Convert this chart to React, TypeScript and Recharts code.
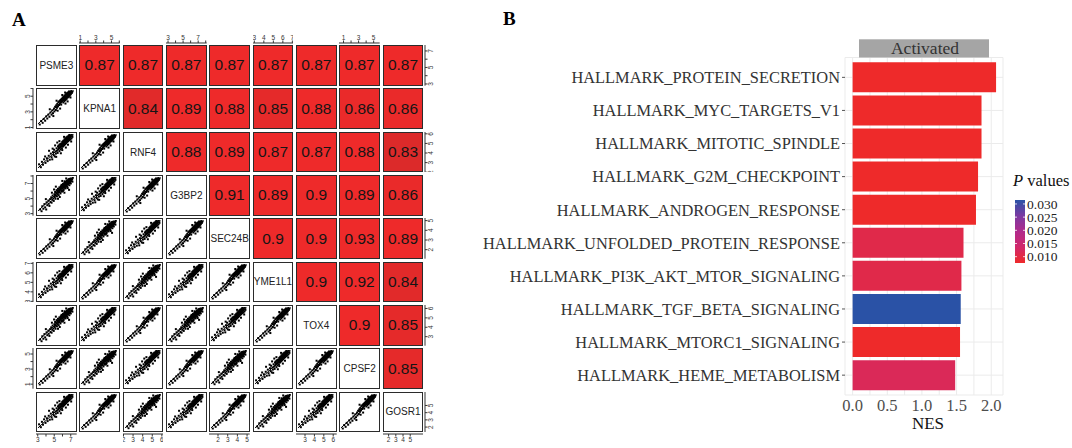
import React from 'react';
import {
  ScatterChart, Scatter, XAxis, YAxis, ReferenceLine, LineChart,
  BarChart, Bar, Cell, CartesianGrid,
} from 'recharts';

// ---------------- Panel A data ----------------
const genes = ['PSME3', 'KPNA1', 'RNF4', 'G3BP2', 'SEC24B', 'YME1L1', 'TOX4', 'CPSF2', 'GOSR1'];

// correlation coefficients, upper triangle, row by row (columns to the right of the diagonal)
const corrPSME3 = [0.87, 0.87, 0.87, 0.87, 0.87, 0.87, 0.87, 0.87];
const corrKPNA1 = [0.84, 0.89, 0.88, 0.85, 0.88, 0.86, 0.86];
const corrRNF4 = [0.88, 0.89, 0.87, 0.87, 0.88, 0.83];
const corrG3BP2 = [0.91, 0.89, 0.9, 0.89, 0.86];
const corrSEC24B = [0.9, 0.9, 0.93, 0.89];
const corrYME1L1 = [0.9, 0.92, 0.84];
const corrTOX4 = [0.9, 0.85];
const corrCPSF2 = [0.85];
const corrRows = [corrPSME3, corrKPNA1, corrRNF4, corrG3BP2, corrSEC24B, corrYME1L1, corrTOX4, corrCPSF2, []];

// per-gene expression axis ranges, tick positions and tick labels
const axisLo = [2.79, 0.85, 1.95, 2.73, 1.07, 2.86, 2.04, 0.4, 1.22];
const axisHi = [7.72, 6.05, 6.19, 8.13, 5.27, 7.14, 6.37, 5.8, 6.87];
const axisTicks = [[3, 4, 5, 6, 7], [1, 2, 3, 4, 5, 6], [2, 3, 4, 5, 6], [3, 4, 5, 6, 7, 8], [2, 3, 4, 5], [3, 4, 5, 6, 7], [3, 4, 5, 6], [1, 2, 3, 4, 5], [2, 3, 4, 5]];
const axisLabels = [[3, 5, 7], [1, 3, 5], [2, 3, 4, 5, 6], [3, 5, 7], [2, 3, 4, 5], [3, 4, 5, 6, 7], [3, 4, 5, 6], [1, 3, 5], [2, 3, 4, 5]];

// scatter clouds (normalised 0-10 expression units)
const cloudA: [number, number][] = [
  [0.6, 0.9], [1.0, 0.4], [1.2, 1.8], [1.5, 1.1], [1.8, 2.4], [2.0, 1.5], [2.3, 0.9], [2.4, 2.9], [2.6, 2.1], [2.9, 3.4],
  [3.0, 2.5], [3.2, 1.9], [3.4, 3.8], [3.5, 3.0], [3.7, 4.3], [3.8, 2.8], [4.0, 3.6], [4.1, 4.8], [4.3, 4.0], [4.4, 3.3],
  [4.6, 5.2], [4.7, 4.4], [4.8, 5.8], [4.9, 3.9], [5.0, 4.9], [5.1, 5.5], [5.2, 6.3], [5.3, 4.6], [5.4, 5.9], [5.5, 5.2],
  [5.6, 6.7], [5.7, 5.6], [5.8, 4.9], [5.9, 6.2], [6.0, 7.1], [6.1, 5.8], [6.2, 6.6], [6.3, 5.4], [6.4, 7.4], [6.5, 6.3],
  [6.6, 6.9], [6.7, 5.9], [6.8, 7.7], [6.9, 6.7], [7.0, 7.2], [7.1, 8.1], [7.2, 6.4], [7.3, 7.5], [7.4, 8.4], [7.5, 7.0],
  [7.6, 7.9], [7.7, 6.8], [7.8, 8.6], [7.9, 7.6], [8.0, 8.2], [8.1, 9.0], [8.2, 7.3], [8.3, 8.5], [8.4, 7.9], [8.5, 9.2],
  [8.6, 8.3], [8.7, 8.8], [8.8, 7.7], [8.9, 9.5], [9.0, 8.6], [9.1, 9.1], [9.2, 8.2], [9.3, 9.6], [9.4, 8.9], [9.6, 9.4],
  [9.7, 8.7], [9.8, 9.8], [6.1, 4.4], [7.4, 5.6], [5.0, 7.3], [3.9, 5.6], [8.7, 6.4], [2.2, 3.8], [6.8, 8.9], [7.9, 9.6],
  [5.6, 3.9], [4.5, 6.5], [8.3, 6.9], [7.0, 6.1], [6.6, 7.8], [7.2, 7.0], [7.7, 8.2], [8.0, 7.7], [8.5, 8.6], [6.3, 6.9],
  [5.8, 6.0], [6.9, 7.3], [7.5, 8.8], [8.9, 8.3], [7.3, 7.9], [8.2, 8.9], [7.8, 7.3], [6.7, 7.1], [8.6, 9.4], [9.0, 9.3],
  [7.1, 7.6], [7.6, 7.4], [8.1, 8.6], [8.4, 8.4], [6.5, 7.3], [7.0, 8.0], [8.8, 9.0], [9.2, 9.0], [6.0, 6.4], [5.5, 6.2],
];
const cloudB: [number, number][] = [
  [0.3, 1.5], [0.8, 0.7], [1.1, 2.2], [1.4, 1.4], [1.7, 2.9], [2.1, 1.9], [2.5, 3.2], [2.7, 2.4], [3.0, 3.9], [3.3, 2.8],
  [3.6, 4.5], [3.8, 3.5], [4.0, 2.9], [4.2, 4.9], [4.4, 4.1], [4.5, 5.6], [4.7, 3.7], [4.9, 5.1], [5.0, 4.5], [5.2, 6.0],
  [5.3, 5.3], [5.5, 4.7], [5.6, 6.5], [5.7, 5.7], [5.9, 6.1], [6.0, 5.2], [6.1, 7.0], [6.2, 6.4], [6.3, 5.7], [6.5, 7.3],
  [6.6, 6.6], [6.7, 6.0], [6.8, 7.8], [6.9, 7.0], [7.0, 6.5], [7.1, 8.1], [7.2, 7.4], [7.3, 6.8], [7.4, 8.5], [7.5, 7.7],
  [7.6, 7.1], [7.7, 8.8], [7.8, 8.0], [7.9, 7.4], [8.0, 9.1], [8.1, 8.4], [8.2, 7.8], [8.3, 9.3], [8.4, 8.6], [8.5, 8.0],
  [8.6, 9.5], [8.7, 8.9], [8.8, 8.3], [8.9, 9.7], [9.0, 9.0], [9.1, 8.5], [9.2, 9.4], [9.4, 8.8], [9.5, 9.8], [9.7, 9.2],
  [3.1, 5.3], [5.4, 7.6], [6.4, 4.6], [7.8, 6.2], [2.0, 3.7], [4.8, 6.8], [8.4, 7.0], [6.0, 8.0], [9.3, 7.9], [5.1, 3.6],
  [7.3, 9.2], [8.8, 9.9], [6.8, 5.5], [4.1, 5.9], [7.9, 8.7], [8.5, 9.0], [7.0, 7.6], [7.6, 8.3], [8.2, 8.8], [6.5, 6.9],
  [9.0, 9.5], [5.8, 6.8], [7.2, 8.0], [8.0, 8.5], [6.9, 7.5], [7.7, 7.6], [8.6, 8.7], [6.2, 7.1], [7.4, 7.2], [8.1, 7.9],
  [7.1, 7.0], [7.8, 8.5], [8.3, 8.2], [8.9, 9.2], [6.6, 7.2], [7.5, 8.1], [8.7, 9.3], [6.3, 6.2],
];
const cloudC: [number, number][] = [
  [0.5, 0.3], [0.9, 1.3], [1.3, 0.8], [1.6, 1.9], [2.0, 1.4], [2.3, 2.6], [2.6, 2.0], [2.9, 3.1], [3.2, 2.5], [3.5, 3.7],
  [3.8, 3.1], [4.0, 4.3], [4.2, 3.5], [4.5, 4.8], [4.6, 4.0], [4.8, 5.3], [5.0, 4.4], [5.1, 5.7], [5.3, 5.0], [5.4, 6.1],
  [5.6, 5.4], [5.7, 6.6], [5.9, 5.8], [6.0, 6.9], [6.1, 6.2], [6.3, 7.2], [6.4, 6.5], [6.5, 5.9], [6.6, 7.5], [6.7, 6.8],
  [6.9, 7.9], [7.0, 7.1], [7.1, 6.5], [7.2, 8.2], [7.3, 7.5], [7.4, 6.9], [7.5, 8.5], [7.6, 7.8], [7.7, 7.2], [7.8, 8.8],
  [7.9, 8.1], [8.0, 7.5], [8.1, 9.1], [8.2, 8.4], [8.3, 7.9], [8.4, 9.3], [8.5, 8.7], [8.6, 8.1], [8.7, 9.6], [8.8, 9.0],
  [8.9, 8.5], [9.0, 9.4], [9.2, 8.8], [9.3, 9.7], [9.5, 9.2], [9.7, 9.6], [5.2, 7.0], [6.2, 4.8], [7.6, 9.3], [8.3, 6.8],
  [3.3, 4.6], [4.3, 2.7], [6.8, 8.6], [7.7, 6.2], [9.1, 7.9], [5.5, 4.2], [8.0, 8.9], [7.2, 7.8], [6.6, 7.1], [8.6, 9.0],
  [7.9, 7.8], [8.4, 8.2], [7.0, 7.6], [7.5, 7.3], [8.2, 8.8], [6.3, 6.6], [8.8, 8.4], [7.4, 8.0], [8.9, 9.2], [6.9, 7.2],
  [7.1, 7.4], [7.8, 8.3], [8.1, 8.0], [8.5, 9.0], [6.5, 7.0], [7.3, 8.0], [8.7, 8.8], [9.1, 9.2],
];
const clouds = [cloudA, cloudB, cloudC];
const fitLine = [{ x: 0, y: 0.5 }, { x: 10, y: 9.8 }];

// ---------------- Panel B data ----------------
const pathways = [
  'HALLMARK_PROTEIN_SECRETION',
  'HALLMARK_MYC_TARGETS_V1',
  'HALLMARK_MITOTIC_SPINDLE',
  'HALLMARK_G2M_CHECKPOINT',
  'HALLMARK_ANDROGEN_RESPONSE',
  'HALLMARK_UNFOLDED_PROTEIN_RESPONSE',
  'HALLMARK_PI3K_AKT_MTOR_SIGNALING',
  'HALLMARK_TGF_BETA_SIGNALING',
  'HALLMARK_MTORC1_SIGNALING',
  'HALLMARK_HEME_METABOLISM',
];
const nesValues = [2.07, 1.86, 1.86, 1.81, 1.78, 1.6, 1.57, 1.56, 1.55, 1.48];
const pValues = [0.0076, 0.0076, 0.0076, 0.0076, 0.0076, 0.0106, 0.0106, 0.0315, 0.0076, 0.0119];
const nesTicks = [0, 0.25, 0.5, 0.75, 1, 1.25, 1.5, 1.75, 2];
const nesLabels = [0, 0.5, 1, 1.5, 2];
const legendTicks = [0.01, 0.015, 0.02, 0.025, 0.03];

// ---------------- helpers ----------------
const SANS = '"Liberation Sans", Arial, Helvetica, sans-serif';
const SERIF = '"Liberation Serif", "Times New Roman", Times, serif';

const P_MIN = 0.0076;
const P_MAX = 0.0315;
const gradStops: [number, string][] = [
  [0, '#EE2A2A'], [0.25, '#D2286A'], [0.5, '#B02A8C'], [0.75, '#7A3AA2'], [1, '#2A52A6'],
];
function hexToRgb(h: string) {
  return [parseInt(h.slice(1, 3), 16), parseInt(h.slice(3, 5), 16), parseInt(h.slice(5, 7), 16)];
}
function pColor(p: number) {
  const t = Math.max(0, Math.min(1, (p - P_MIN) / (P_MAX - P_MIN)));
  for (let i = 0; i < gradStops.length - 1; i++) {
    const [t0, c0] = gradStops[i];
    const [t1, c1] = gradStops[i + 1];
    if (t <= t1) {
      const f = (t - t0) / (t1 - t0);
      const a = hexToRgb(c0), b = hexToRgb(c1);
      return `rgb(${a.map((v, k) => Math.round(v + (b[k] - v) * f)).join(',')})`;
    }
  }
  return gradStops[gradStops.length - 1][1];
}
function corrColor(r: number) {
  const t = Math.max(0, Math.min(1, (0.87 - r) / 0.04));
  const a = hexToRgb('#EE2A2A'), b = hexToRgb('#DC2A2A');
  return `rgb(${a.map((v, k) => Math.round(v + (b[k] - v) * t)).join(',')})`;
}

const X0 = 36;
const Y0 = 45;
const PITCH = 43.33;
const CELL = 40.7;
const BORDER = 1.5;

const Dot = (p: any) => (
  <rect x={p.cx - 1} y={p.cy - 1} width={2} height={2} fill="#000" />
);

function ScatterCell({ cloud }: { cloud: [number, number][] }) {
  const data = cloud.map(([x, y]) => ({ x, y }));
  const s = CELL - 2 * BORDER;
  return (
    <ScatterChart width={s} height={s} margin={{ top: 1, right: 1, bottom: 1, left: 1 }}>
      <XAxis type="number" dataKey="x" domain={[0, 10]} hide allowDataOverflow />
      <YAxis type="number" dataKey="y" domain={[0, 10]} hide allowDataOverflow />
      <ReferenceLine segment={fitLine} stroke="#000" strokeWidth={1} ifOverflow="visible" />
      <Scatter data={data} isAnimationActive={false} shape={Dot} />
    </ScatterChart>
  );
}

function HAxis({ side, gi }: { side: 'top' | 'bottom'; gi: number }) {
  const lo = axisLo[gi], hi = axisHi[gi];
  const left = X0 + gi * PITCH;
  const top = side === 'top' ? 43.3 - 12 : 433.5 - 2;
  return (
    <div style={{ position: 'absolute', left, top }}>
      <LineChart width={CELL} height={14} data={[{ v: lo }, { v: hi }]} margin={{ top: 0, right: 0, bottom: 0, left: 0 }}>
        <XAxis
          type="number" dataKey="v" domain={[lo, hi]} allowDataOverflow
          ticks={axisTicks[gi]} interval={0} orientation={side} height={12}
          tickSize={2.5} tickMargin={0.5} stroke="#333"
          tick={{ fontSize: 6.5, fill: '#333', fontFamily: SANS }}
          tickFormatter={(v: number) => (axisLabels[gi].includes(v) ? String(v) : '')}
        />
        <YAxis hide />
      </LineChart>
    </div>
  );
}

function VAxis({ side, gi }: { side: 'left' | 'right'; gi: number }) {
  const lo = axisLo[gi], hi = axisHi[gi];
  const top = Y0 + gi * PITCH;
  const left = side === 'left' ? 33 - 12 : 424.5 - 2;
  const renderTick = (props: any) => {
    const { x, y, payload } = props;
    const v = payload.value;
    if (!axisLabels[gi].includes(v)) return <g />;
    const tx = side === 'left' ? x : x + 4.8;
    return (
      <text x={tx} y={y} transform={`rotate(-90 ${tx} ${y})`} textAnchor="middle"
        fontSize={6.5} fill="#333" fontFamily={SANS}>{v}</text>
    );
  };
  return (
    <div style={{ position: 'absolute', left, top }}>
      <LineChart width={14} height={CELL} data={[{ v: lo }, { v: hi }]} margin={{ top: 0, right: 0, bottom: 0, left: 0 }}>
        <XAxis hide />
        <YAxis
          type="number" dataKey="v" domain={[lo, hi]} allowDataOverflow
          ticks={axisTicks[gi]} interval={0} orientation={side} width={12}
          tickSize={2.5} tickMargin={0.5} stroke="#333" tick={renderTick}
        />
      </LineChart>
    </div>
  );
}

function PanelA() {
  const cells: React.ReactNode[] = [];
  for (let i = 0; i < genes.length; i++) {
    for (let j = 0; j < genes.length; j++) {
      const left = X0 + j * PITCH;
      const top = Y0 + i * PITCH;
      const base: React.CSSProperties = {
        position: 'absolute', left, top, width: CELL, height: CELL,
        boxSizing: 'border-box', border: `${BORDER}px solid #2b2b2b`,
      };
      if (i === j) {
        cells.push(
          <div key={`${i}-${j}`} style={{ ...base, background: '#fff', display: 'flex', alignItems: 'center', justifyContent: 'center', fontFamily: SANS, fontSize: 10, color: '#222', whiteSpace: 'nowrap' }}>
            {genes[i]}
          </div>
        );
      } else if (j > i) {
        const r = corrRows[i][j - i - 1];
        cells.push(
          <div key={`${i}-${j}`} style={{ ...base, background: corrColor(r), display: 'flex', alignItems: 'center', justifyContent: 'center', fontFamily: SANS, fontSize: 15.5, color: '#151515' }}>
            {String(r)}
          </div>
        );
      } else {
        cells.push(
          <div key={`${i}-${j}`} style={{ ...base, background: '#fff' }}>
            <ScatterCell cloud={clouds[(i * 2 + j) % 3]} />
          </div>
        );
      }
    }
  }
  const axes: React.ReactNode[] = [];
  genes.forEach((_, gi) => {
    if (gi % 2 === 1) {
      axes.push(<HAxis key={`t${gi}`} side="top" gi={gi} />);
      axes.push(<VAxis key={`l${gi}`} side="left" gi={gi} />);
    } else {
      axes.push(<HAxis key={`b${gi}`} side="bottom" gi={gi} />);
      axes.push(<VAxis key={`r${gi}`} side="right" gi={gi} />);
    }
  });
  return <>{axes}{cells}</>;
}

function PanelB() {
  const data = pathways.map((name, k) => ({ name, nes: nesValues[k], p: pValues[k] }));
  return (
    <div style={{ position: 'absolute', left: 440, top: 0 }}>
      <BarChart
        layout="vertical" width={632} height={448} data={data}
        margin={{ top: 57.5, right: 69, bottom: 23, left: 0 }}
        barCategoryGap="4.6%"
      >
        <CartesianGrid stroke="#EBEBEB" strokeWidth={1} />
        <XAxis
          type="number" dataKey="nes" domain={[-0.11, 2.17]} allowDataOverflow
          ticks={nesTicks} interval={0} axisLine={false} tickLine={false} height={30}
          tickSize={2} tickMargin={2}
          tick={{ fontSize: 16.5, fill: '#4D4D4D', fontFamily: SERIF }}
          tickFormatter={(v: number) => (nesLabels.includes(v) ? v.toFixed(1) : '')}
        />
        <YAxis
          type="category" dataKey="name" width={405} axisLine={false}
          tickSize={3} tickMargin={2} tickLine={{ stroke: '#555' }} interval={0}
          padding={{ top: 3.3, bottom: 3.3 }}
          tick={{ fontSize: 16.4, fill: '#333', fontFamily: SERIF }}
        />
        <Bar dataKey="nes" isAnimationActive={false}>
          {data.map((d, k) => <Cell key={k} fill={pColor(d.p)} />)}
        </Bar>
      </BarChart>
    </div>
  );
}

function Overlay() {
  const barTop = 200, barH = 63;
  const yOf = (p: number) => barTop + barH - ((p - P_MIN) / (P_MAX - P_MIN)) * barH;
  return (
    <svg width={1072} height={448} style={{ position: 'absolute', left: 0, top: 0, pointerEvents: 'none' }}>
      <defs>
        <linearGradient id="pgrad" x1="0" y1="1" x2="0" y2="0">
          {gradStops.map(([t, c]) => <stop key={t} offset={`${t * 100}%`} stopColor={c} />)}
        </linearGradient>
      </defs>
      <text x={12} y={26} fontFamily={SERIF} fontWeight="bold" fontSize={19} fill="#000">A</text>
      <text x={503} y={25} fontFamily={SERIF} fontWeight="bold" fontSize={19} fill="#000">B</text>
      <rect x={859} y={39.3} width={130} height={18.2} fill="#A5A5A5" />
      <text x={925} y={54} textAnchor="middle" fontFamily={SERIF} fontSize={17.5} fill="#333">Activated</text>
      <text x={928} y={429} textAnchor="middle" fontFamily={SERIF} fontSize={17} fill="#111">NES</text>
      <text x={1013} y={186} fontFamily={SERIF} fontSize={16.5} fill="#111">
        <tspan fontStyle="italic">P</tspan> values
      </text>
      <rect x={1015} y={barTop} width={10} height={barH} fill="url(#pgrad)" />
      {legendTicks.map((t) => (
        <g key={t}>
          <line x1={1015} x2={1017} y1={yOf(t)} y2={yOf(t)} stroke="#fff" strokeWidth={0.8} />
          <line x1={1023} x2={1025} y1={yOf(t)} y2={yOf(t)} stroke="#fff" strokeWidth={0.8} />
          <text x={1027} y={yOf(t) + 4.6} fontFamily={SERIF} fontSize={13.5} fill="#222">{t.toFixed(3)}</text>
        </g>
      ))}
    </svg>
  );
}

export default function App() {
  return (
    <div style={{ position: 'absolute', left: 0, top: 0, width: 1072, height: 448, background: '#fff', overflow: 'hidden' }}>
      <PanelA />
      <PanelB />
      <Overlay />
    </div>
  );
}
